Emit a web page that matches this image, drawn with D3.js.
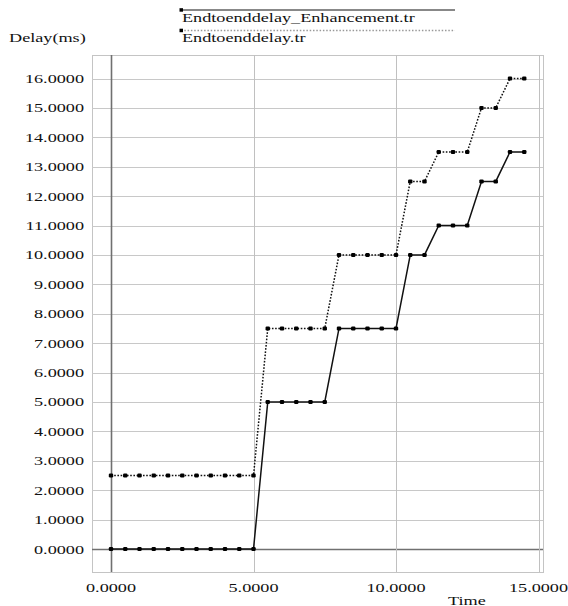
<!DOCTYPE html>
<html>
<head>
<meta charset="utf-8">
<script src="https://cdn.jsdelivr.net/npm/d3@7"></script>
<style>
  body { margin: 0; background: #fff; }
</style>
</head>
<body>
<script>
// time values (s)
var times = [0, 0.5, 1, 1.5, 2, 2.5, 3, 3.5, 4, 4.5, 5,
             5.5, 6, 6.5, 7, 7.5, 8, 8.5, 9, 9.5, 10,
             10.5, 11, 11.5, 12, 12.5, 13, 13.5, 14, 14.5];
// delay values (ms)
var enhancedDelay = [0, 0, 0, 0, 0, 0, 0, 0, 0, 0, 0,
                     5, 5, 5, 5, 5, 7.5, 7.5, 7.5, 7.5, 7.5,
                     10, 10, 11, 11, 11, 12.5, 12.5, 13.5, 13.5];
var originalDelay = [2.5, 2.5, 2.5, 2.5, 2.5, 2.5, 2.5, 2.5, 2.5, 2.5, 2.5,
                     7.5, 7.5, 7.5, 7.5, 7.5, 10, 10, 10, 10, 10,
                     12.5, 12.5, 13.5, 13.5, 13.5, 15, 15, 16, 16];
var seriesNames = ["Endtoenddelay_Enhancement.tr", "Endtoenddelay.tr"];
var xTicks = [0, 5, 10, 15];
var yTicks = [0, 1, 2, 3, 4, 5, 6, 7, 8, 9, 10, 11, 12, 13, 14, 15, 16];

var W = 568, H = 606;
var frame = {left: 92, right: 543, top: 55, bottom: 572};
var stretch = 1.4; // text in the picture is drawn wide

var x = d3.scaleLinear().domain([0, 15]).range([111, 538.5]);
var y = d3.scaleLinear().domain([0, 16]).range([549, 78.5]);

var svg = d3.select("body").append("svg")
    .attr("width", W)
    .attr("height", H);

function wideText(g, px, py, anchor, str) {
  return g.append("text")
      .attr("transform", "translate(" + px + "," + py + ") scale(" + stretch + ",1)")
      .attr("text-anchor", anchor)
      .attr("font-family", "Liberation Serif")
      .attr("font-size", 13)
      .attr("fill", "#111")
      .text(str);
}

// frame
svg.append("rect")
    .attr("x", frame.left + 0.5).attr("y", frame.top + 0.5)
    .attr("width", frame.right - frame.left).attr("height", frame.bottom - frame.top)
    .attr("fill", "none").attr("stroke", "#c4c4c4");

// grid lines
svg.append("g").selectAll("line").data(yTicks).enter().append("line")
    .attr("x1", frame.left).attr("x2", frame.right)
    .attr("y1", function(d) { return Math.round(y(d)) + 0.5; })
    .attr("y2", function(d) { return Math.round(y(d)) + 0.5; })
    .attr("stroke", function(d) { return d === 0 ? "#707070" : "#c8c8c8"; })
    .attr("stroke-width", function(d) { return d === 0 ? 1.4 : 1; });

svg.append("g").selectAll("line").data(xTicks).enter().append("line")
    .attr("y1", frame.top).attr("y2", frame.bottom)
    .attr("x1", function(d) { return Math.round(x(d)) + 0.5; })
    .attr("x2", function(d) { return Math.round(x(d)) + 0.5; })
    .attr("stroke", function(d) { return d === 0 ? "#707070" : "#c0c0c0"; })
    .attr("stroke-width", function(d) { return d === 0 ? 1.6 : 1; });

// tick labels
var yLab = svg.append("g");
yTicks.forEach(function(d) {
  wideText(yLab, 84, y(d) + 4.5, "end", d3.format(".4f")(d));
});
var xLab = svg.append("g");
xTicks.forEach(function(d) {
  wideText(xLab, x(d), 592, "middle", d3.format(".4f")(d));
});

// axis titles
wideText(svg, 9, 42, "start", "Delay(ms)");
wideText(svg, 448, 605, "start", "Time");

// series
var pts = function(vals) {
  return times.map(function(t, i) { return {t: t, v: vals[i]}; });
};
var line = d3.line()
    .x(function(d) { return x(d.t); })
    .y(function(d) { return y(d.v); });

var series = [
  {name: seriesNames[0], data: pts(enhancedDelay), dash: null},
  {name: seriesNames[1], data: pts(originalDelay), dash: "1.6,1.6"}
];

series.forEach(function(s) {
  svg.append("path")
      .datum(s.data)
      .attr("d", line)
      .attr("fill", "none")
      .attr("stroke", "#111")
      .attr("stroke-width", 1.5)
      .attr("stroke-dasharray", s.dash);
  svg.append("g").selectAll("rect").data(s.data).enter().append("rect")
      .attr("x", function(d) { return x(d.t) - 2.2; })
      .attr("y", function(d) { return y(d.v) - 2; })
      .attr("width", 4.4).attr("height", 4)
      .attr("rx", 1.2)
      .attr("fill", "#000");
});

// legend
var legend = svg.append("g");
series.forEach(function(s, i) {
  var ly = i === 0 ? 10 : 30.5;
  legend.append("line")
      .attr("x1", 181).attr("x2", 455)
      .attr("y1", ly).attr("y2", ly)
      .attr("stroke", i === 0 ? "#888" : "#999")
      .attr("stroke-width", i === 0 ? 1.8 : 1.3)
      .attr("stroke-dasharray", i === 0 ? null : "1.5,1.8");
  legend.append("rect")
      .attr("x", 179.5).attr("y", ly - 1.8)
      .attr("width", 3.5).attr("height", 3.5)
      .attr("fill", "#000");
  wideText(legend, 182, ly + 11.5, "start", s.name);
});
</script>
</body>
</html>
